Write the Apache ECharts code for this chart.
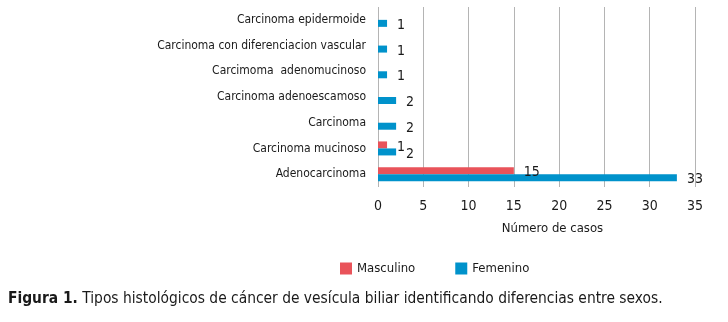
<!DOCTYPE html>
<html>
<head>
<meta charset="utf-8">
<script src="https://cdn.jsdelivr.net/npm/echarts@6/dist/echarts.min.js"></script>
<style>
  html, body { margin: 0; padding: 0; background: #fff; }
  #chart { width: 728px; height: 322px; }
</style>
</head>
<body>
<div id="chart"></div>
<script>
const categorias = [
    'Carcinoma epidermoide',
    'Carcinoma con diferenciacion vascular',
    'Carcimoma  adenomucinoso',
    'Carcinoma adenoescamoso',
    'Carcinoma',
    'Carcinoma mucinoso',
    'Adenocarcinoma'
];
const masculino = [null, null, null, null, null, 1, 15];
const femenino = [1, 1, 1, 2, 2, 2, 33];
const ticksX = [0, 5, 10, 15, 20, 25, 30, 35];

const fuente = "'Liberation Sans Narrow', 'DejaVu Sans Condensed', sans-serif";

var myChart = echarts.init(document.getElementById('chart'), null, { renderer: 'canvas' });

const etiqueta = {
    show: true,
    position: 'right',
    distance: 10,
    offset: [0, 2],
    fontFamily: fuente,
    fontSize: 14,
    color: '#1a1a1a'
};

const option = {
    animation: false,
    grid: { left: 378, right: 33, top: 7, bottom: 135 },
    legend: {
        left: 335,
        top: 257,
        itemWidth: 12,
        itemHeight: 12,
        itemGap: 40,
        icon: 'rect',
        textStyle: { fontFamily: fuente, fontSize: 13, color: '#1a1a1a' },
        data: ['Masculino', 'Femenino']
    },
    xAxis: {
        type: 'value',
        min: ticksX[0],
        max: ticksX[ticksX.length - 1],
        interval: 5,
        name: 'Número de casos',
        nameLocation: 'middle',
        nameGap: 35,
        nameTextStyle: { fontFamily: fuente, fontSize: 13, color: '#1a1a1a', padding: [0, 0, 0, 32] },
        axisLine: { show: false },
        axisTick: { show: false },
        axisLabel: { margin: 12, fontFamily: fuente, fontSize: 14, color: '#1a1a1a' },
        splitLine: { show: true, lineStyle: { color: '#b4b4b4', width: 1 } }
    },
    yAxis: {
        type: 'category',
        inverse: true,
        data: categorias,
        axisLine: { show: false },
        axisTick: { show: false },
        axisLabel: { margin: 12, fontFamily: fuente, fontSize: 12, color: '#1a1a1a' }
    },
    series: [
        {
            name: 'Masculino',
            type: 'bar',
            data: masculino,
            barWidth: 7,
            barGap: '0%',
            itemStyle: { color: '#E9535A' },
            label: etiqueta
        },
        {
            name: 'Femenino',
            type: 'bar',
            data: femenino,
            barWidth: 7,
            barGap: '0%',
            itemStyle: { color: '#0092CB' },
            label: etiqueta
        }
    ],
    graphic: [
        {
            type: 'text',
            left: 8,
            top: 291,
            style: {
                text: '{b|Figura 1.} Tipos histológicos de cáncer de vesícula biliar identificando diferencias entre sexos.',
                fontFamily: fuente,
                fontSize: 15.4,
                fill: '#1a1a1a',
                rich: {
                    b: { fontFamily: fuente, fontSize: 15.4, fontWeight: 'bold', fill: '#1a1a1a' }
                }
            }
        }
    ]
};

myChart.setOption(option);
window.addEventListener('resize', myChart.resize);
</script>
</body>
</html>
